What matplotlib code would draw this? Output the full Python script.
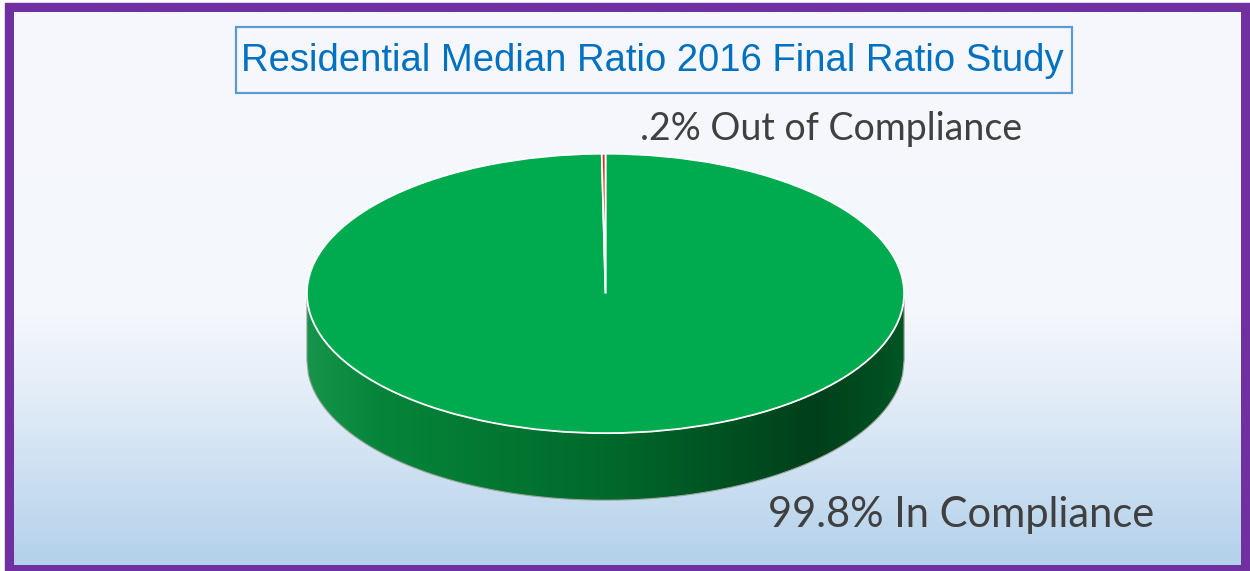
import numpy as np
import matplotlib

matplotlib.use("Agg")
import matplotlib.pyplot as plt
from matplotlib import font_manager
from matplotlib.patches import Rectangle, Polygon
from matplotlib.colors import LinearSegmentedColormap

# ---------------- data ----------------
title = "Residential Median Ratio 2016 Final Ratio Study"
labels = ["99.8% In Compliance", ".2% Out of Compliance"]
values = [99.8, 0.2]
colors = ["#00aa4e", "#e8261c"]

W, H = 1250, 571
fig = plt.figure(figsize=(W / 100, H / 100), dpi=100)
fig.patch.set_facecolor("white")

# background axes in pixel coords
ax = fig.add_axes([0, 0, 1, 1])
ax.set_xlim(0, W); ax.set_ylim(H, 0); ax.axis("off")

# purple frame + inner gradient panel
ax.add_patch(Rectangle((5, 3), W - 5, H - 3, color="#7030a0", zorder=0))
bg = LinearSegmentedColormap.from_list(
    "bg", [(0, "#f6f8fc"), (0.55, "#f4f7fc"), (0.7, "#e2ecf7"), (1, "#b3d1eb")])
grad = np.linspace(0, 1, 256).reshape(-1, 1)
ax.imshow(grad, cmap=bg, extent=(14, 1241, 565, 12), aspect="auto", zorder=1)

# title box; narrow font if there is one, else shrink to fit the box
names = {f.name for f in font_manager.fontManager.ttflist}
if "Liberation Sans Narrow" in names:
    tfam, tsize = "Liberation Sans Narrow", 34
else:
    tfam, tsize = "Liberation Sans", 27.5
ax.add_patch(Rectangle((236, 27), 836, 66, fill=False, ec="#5b9bd5", lw=1.6, zorder=3))
ax.text(652, 61, title, ha="center", va="center", color="#0070c0", fontsize=tsize,
        family=[tfam, "DejaVu Sans"], zorder=4)

# ---------------- pie ----------------
# pie axes: top ellipse radius 1 in x (300px) and 1 in y (140px); depth below
left, right, top, bottom = 306, 905, 153, 501
pax = fig.add_axes([left / W, 1 - bottom / H, (right - left) / W, (bottom - top) / H])
pax.axis("off")
depth = 0.48

# side wall (front half) with horizontal shading
xs = np.linspace(-1, 1, 400)
ys = -np.sqrt(np.clip(1 - xs ** 2, 0, None))
side = np.concatenate([np.c_[xs, ys], np.c_[xs[::-1], ys[::-1] - depth]])
poly = Polygon(side, closed=True, fc="none", ec="#9aa59e", lw=0.8, zorder=2)
pax.add_patch(poly)
side_cm = LinearSegmentedColormap.from_list(
    "side", [(0, "#17944a"), (0.12, "#06853a"), (0.5, "#006a2b"),
             (0.85, "#003f1b"), (1, "#005523")])
img = pax.imshow(np.linspace(0, 1, 256).reshape(1, -1), cmap=side_cm,
                 extent=(-1, 1, -1 - depth, 0), aspect="auto", zorder=1)
img.set_clip_path(poly)

# top face
wedges, _ = pax.pie(values, colors=colors, startangle=90, counterclock=False,
                    wedgeprops=dict(edgecolor="white", linewidth=1.3))
for w in wedges:
    w.set_zorder(3)
pax.set_aspect("auto")
pax.set_xlim(-1.003, 1.003); pax.set_ylim(1 - (bottom - top) / 140, 1.005)

# labels
lab_font = ["Lato", "DejaVu Sans"]
ax.text(640, 140, labels[1], ha="left", va="baseline", color="#404040",
        fontsize=27, family=lab_font, zorder=4)
ax.text(768, 527, labels[0], ha="left", va="baseline", color="#404040",
        fontsize=30, family=lab_font, zorder=4)

fig.savefig("out.png", dpi=100)
